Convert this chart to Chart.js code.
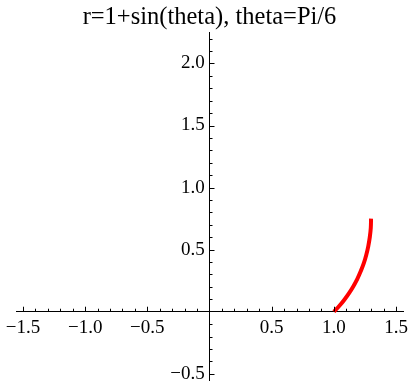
<!DOCTYPE html>
<html>
<head>
<meta charset="utf-8">
<script src="https://cdn.jsdelivr.net/npm/chart.js@4"></script>
<style>
  html, body { margin: 0; padding: 0; background: white; }
  #wrap { width: 409px; height: 385px; }
</style>
</head>
<body>
<div id="wrap"><canvas id="myChart"></canvas></div>
<script>
// curve points (r = 1 + sin(theta), theta from 0 to Pi/6)
let curveX = [1.000, 1.043, 1.083, 1.121, 1.156, 1.188, 1.216, 1.241, 1.261, 1.277, 1.289, 1.297, 1.299]
let curveY = [0.000, 0.046, 0.095, 0.148, 0.204, 0.263, 0.326, 0.391, 0.459, 0.529, 0.601, 0.675, 0.750]

let xTicks = [-1.5, -1.0, -0.5, 0.5, 1.0, 1.5]
let yTicks = [-0.5, 0.5, 1.0, 1.5, 2.0]
let xRange = [-1.556, 1.556]
let yRange = [-0.55, 2.25]

let serif = '"Liberation Serif", "Times New Roman", serif'

function label(v) {
  return v.toFixed(1).replace('-', '\u2212')
}

// the centred axes should not push the plot area around
function noPadding(scale) {
  scale.paddingLeft = 0
  scale.paddingRight = 0
  scale.paddingTop = 0
  scale.paddingBottom = 0
}

// Mathematica style ticks: major every 0.5, minor every 0.1, drawn on the inside
let minorTicks = {
  id: 'minorTicks',
  afterDraw(chart) {
    let ctx = chart.ctx
    let xs = chart.scales.x
    let ys = chart.scales.y
    let x0 = xs.getPixelForValue(0)
    let y0 = ys.getPixelForValue(0)
    ctx.save()
    ctx.strokeStyle = 'black'
    ctx.lineWidth = 1
    ctx.beginPath()
    for (let i = -15; i <= 15; i++) {
      if (i === 0) continue
      let px = Math.round(xs.getPixelForValue(i / 10)) + 0.5
      let len = i % 5 === 0 ? 5 : 3
      ctx.moveTo(px, y0)
      ctx.lineTo(px, y0 - len)
    }
    for (let i = -5; i <= 22; i++) {
      if (i === 0) continue
      let py = Math.round(ys.getPixelForValue(i / 10)) + 0.5
      let len = i % 5 === 0 ? 5 : 3
      ctx.moveTo(x0, py)
      ctx.lineTo(x0 + len, py)
    }
    ctx.stroke()
    ctx.restore()
  }
}

let points = curveX.map((x, i) => ({ x: x, y: curveY[i] }))

let myChart = document.getElementById('myChart').getContext('2d')
let plot = new Chart(myChart, {
  type: 'scatter',
  data: {
    datasets: [
      {
        data: points,
        showLine: true,
        borderColor: '#ff0000',
        borderWidth: 4,
        pointRadius: 0,
        tension: 0.4,
        fill: false
      }
    ]
  },
  options: {
    responsive: true,
    maintainAspectRatio: false,
    animation: false,
    layout: {
      padding: { left: 16, right: 6, top: 0, bottom: 5 }
    },
    plugins: {
      legend: { display: false },
      tooltip: { enabled: false },
      title: {
        display: true,
        text: 'r=1+sin(theta), theta=Pi/6',
        color: 'black',
        font: { family: serif, size: 24.5, weight: 'normal', lineHeight: 1.2 },
        padding: { top: 3, bottom: 0 }
      }
    },
    scales: {
      x: {
        type: 'linear',
        min: xRange[0],
        max: xRange[1],
        position: { y: 0 },
        grid: { display: false, drawTicks: false },
        border: { display: true, color: 'black', width: 1 },
        afterFit: noPadding,
        afterBuildTicks: (scale) => {
          scale.ticks = xTicks.map((v) => ({ value: v }))
        },
        ticks: {
          color: 'black',
          padding: 5,
          maxRotation: 0,
          font: { family: serif, size: 19 },
          callback: (v) => label(v)
        }
      },
      y: {
        type: 'linear',
        min: yRange[0],
        max: yRange[1],
        position: { x: 0 },
        grid: { display: false, drawTicks: false },
        border: { display: true, color: 'black', width: 1 },
        afterFit: noPadding,
        afterBuildTicks: (scale) => {
          scale.ticks = yTicks.map((v) => ({ value: v }))
        },
        ticks: {
          color: 'black',
          font: { family: serif, size: 19 },
          // a trailing space keeps the label clear of the axis line
          callback: (v) => label(v) + ' '
        }
      }
    }
  },
  plugins: [minorTicks]
})
</script>
</body>
</html>
